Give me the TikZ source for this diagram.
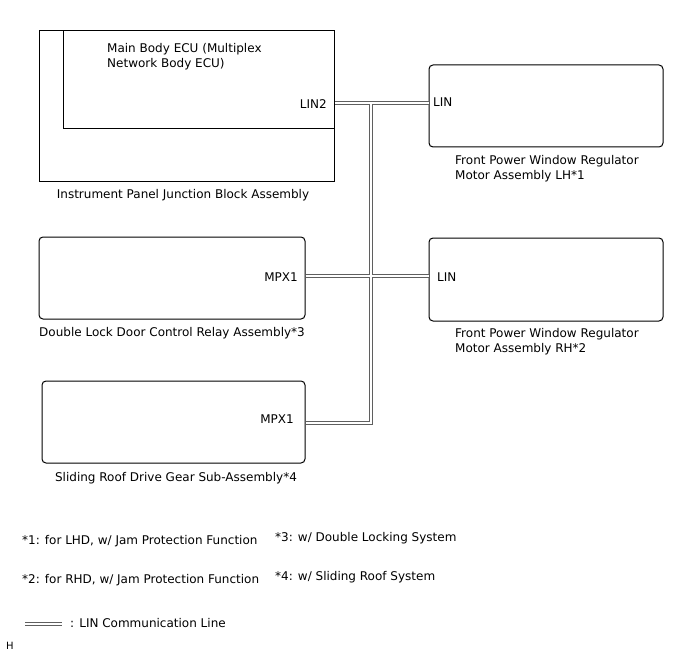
\documentclass[tikz,border=0pt]{standalone}
\usepackage{fontspec}
\setmainfont{DejaVu Sans}
\usetikzlibrary{positioning,calc}
\definecolor{BusGray}{RGB}{95,95,95}

\begin{document}
\begin{tikzpicture}[
    x=1pt,
    y=-1pt,
    font=\fontsize{12}{15}\selectfont,
    unit/.style={
        draw,
        line width=1pt,
        rounded corners=4pt,
        minimum width=234pt,
        minimum height=82pt,
        inner sep=0pt
    },
    plainbox/.style={
        draw,
        line width=1pt,
        inner sep=0pt
    },
    port/.style={inner sep=0pt},
    caption/.style={align=left, inner sep=0pt},
    bus/.style={
        draw=BusGray,
        line width=1.3pt,
        double=white,
        double distance=1.6pt
    }
]
\useasboundingbox (0,0) rectangle (688,658);

% junction block with the body ECU inside
\node[plainbox, minimum width=295pt, minimum height=150pt] (ipjb) at (186.5,106) {};
\node[plainbox, minimum width=271pt, minimum height=98pt] (ecu) at (198.5,80) {};
\node[caption, anchor=west] (ecutext) at (107,56.5) {Main Body ECU (Multiplex\\Network Body ECU)};
\node[caption] (ipjbtext) at (183,195) {Instrument Panel Junction Block Assembly};

% window regulator motors
\node[unit] (fpwlh) at (546,106) {};
\node[caption, anchor=west] (fpwlhtext) at (455,168.5) {Front Power Window Regulator\\Motor Assembly LH*1};
\node[unit, minimum height=83pt] (fpwrh) at (546,279.5) {};
\node[caption, anchor=west] (fpwrhtext) at (455,341.5) {Front Power Window Regulator\\Motor Assembly RH*2};

% relay and sliding roof
\node[unit, minimum width=266pt] (dlock) at (172,278) {};
\node[caption, anchor=west] (dlocktext) at (39,333) {Double Lock Door Control Relay Assembly*3};
\node[unit, minimum width=263pt] (sroof) at (173.5,422) {};
\node[caption] (srooftext) at (176,478) {Sliding Roof Drive Gear Sub-Assembly*4};

% terminals
\node[port, anchor=east] (lin2) at (327,104) {LIN2};
\node[port, anchor=west] (lhlin) at (433,102) {LIN};
\node[port, anchor=east] (mpxa) at (298,277) {MPX1};
\node[port, anchor=west] (rhlin) at (437,277) {LIN};
\node[port, anchor=east] (mpxb) at (294,419) {MPX1};

% LIN bus
\coordinate (j1) at (371,103);
\coordinate (j2) at (371,276);
\coordinate (j3) at (371,423);
\draw[bus] (ipjb.east |- j1) -- (fpwlh.west |- j1)
    (j1) -- (j3) -- (sroof.east |- j3)
    (dlock.east |- j2) -- (fpwrh.west |- j2);

% notes
\node[caption, anchor=west] (note1) at (22,541) {*1: for LHD, w/ Jam Protection Function};
\node[caption, anchor=west] (note2) at (22,580) {*2: for RHD, w/ Jam Protection Function};
\node[caption, anchor=west] (note3) at (275,538) {*3: w/ Double Locking System};
\node[caption, anchor=west] (note4) at (275,577) {*4: w/ Sliding Roof System};

% legend
\coordinate (lega) at (25,624);
\coordinate (legb) at (62,624);
\draw[bus] (lega) -- (legb);
\node[caption, anchor=west] (legtext) at (70,623) {: LIN Communication Line};
\node[caption, anchor=west, font=\fontsize{10}{11}\selectfont] (tag) at (6,646) {H};

\end{tikzpicture}
\end{document}
